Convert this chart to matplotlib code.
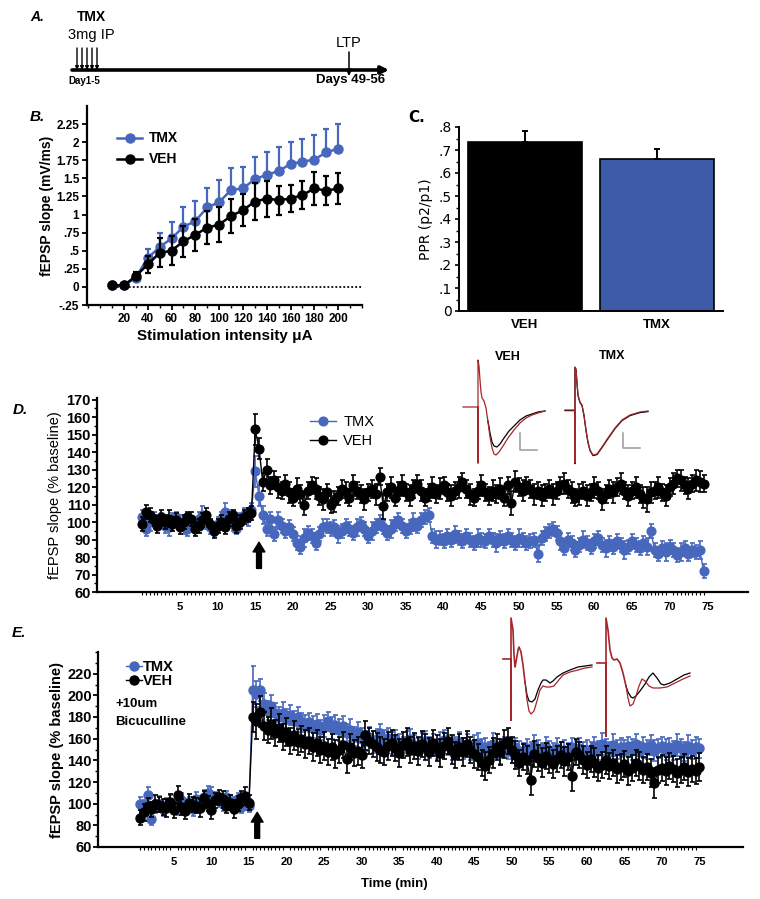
import numpy as np
import matplotlib
matplotlib.use('Agg')
import matplotlib.pyplot as plt
from matplotlib.ticker import FuncFormatter, MultipleLocator

plt.rcParams['font.family'] = ['Liberation Sans', 'DejaVu Sans']

W, H = 760, 899
BLUE = '#4767bd'
BAR_BLUE = '#3d5ba8'
RED = '#a3262a'

# ---------------- Panel B data ----------------
stim = [10, 20, 30, 40, 50, 60, 70, 80, 90, 100, 110, 120, 130, 140, 150, 160, 170, 180, 190, 200]
b_tmx = [0.02, 0.02, 0.13, 0.40, 0.55, 0.67, 0.83, 0.91, 1.10, 1.17, 1.34, 1.36, 1.49, 1.55, 1.60, 1.70, 1.73, 1.76, 1.86, 1.91]
b_tmx_err = [0.02, 0.03, 0.05, 0.13, 0.19, 0.23, 0.28, 0.28, 0.27, 0.31, 0.31, 0.30, 0.31, 0.31, 0.33, 0.30, 0.31, 0.34, 0.32, 0.34]
b_veh = [0.02, 0.02, 0.15, 0.31, 0.47, 0.50, 0.63, 0.72, 0.82, 0.86, 0.98, 1.06, 1.18, 1.22, 1.20, 1.22, 1.27, 1.36, 1.33, 1.36]
b_veh_err = [0.02, 0.03, 0.05, 0.12, 0.20, 0.20, 0.21, 0.22, 0.23, 0.24, 0.24, 0.22, 0.25, 0.25, 0.20, 0.19, 0.20, 0.23, 0.20, 0.22]

# ---------------- Panel C data ----------------
ppr_groups = ['VEH', 'TMX']
ppr_vals = [0.734, 0.660]
ppr_err = [0.048, 0.044]

# ---------------- Panel D data (every 0.5 min from 0) ----------------
d_tmx = [103, 96, 100, 102, 99, 101, 98, 97, 101, 103,
         100, 98, 96, 99, 97, 102, 104, 100, 97, 95,
         99, 102, 106, 103, 99, 96, 101, 104, 103, 107,
         129, 115, 104, 96, 102, 93, 101, 98, 95, 97,
         93, 88, 86, 91, 94, 92, 88, 93, 97, 98,
         96, 97, 93, 95, 98, 96, 94, 97, 99, 96,
         92, 95, 98, 100, 97, 94, 96, 99, 101, 98,
         95, 97, 100, 98, 101, 103, 104, 92, 90, 91,
         89, 92, 90, 93, 91, 89, 92, 90, 88, 91,
         90, 89, 92, 90, 88, 91, 89, 92, 90, 88,
         91, 90, 88, 89, 90, 82, 91, 93, 95, 96,
         94, 89, 85, 90, 88, 84, 87, 90, 88, 86,
         89, 91, 87, 85, 88, 86, 89, 87, 84, 86,
         89, 87, 85, 88, 86, 95, 84, 82, 85, 83,
         86, 84, 81, 83, 85, 82, 84, 83, 84, 72]
d_tmx_err = [4, 4, 5, 4, 3, 4, 4, 5, 4, 3,
             4, 5, 4, 4, 3, 4, 5, 4, 4, 3,
             4, 4, 5, 4, 4, 3, 4, 4, 5, 4,
             9, 6, 5, 4, 4, 4, 5, 4, 4, 4,
             4, 4, 4, 5, 4, 4, 4, 4, 5, 4,
             4, 4, 5, 4, 4, 4, 4, 5, 4, 4,
             4, 5, 4, 4, 4, 4, 5, 4, 4, 4,
             4, 4, 5, 4, 4, 4, 4, 4, 5, 4,
             4, 4, 4, 5, 4, 4, 4, 4, 4, 5,
             4, 4, 4, 4, 5, 4, 4, 4, 4, 4,
             5, 4, 4, 4, 4, 5, 4, 4, 4, 4,
             4, 5, 4, 4, 4, 4, 4, 5, 4, 4,
             4, 4, 4, 5, 4, 4, 4, 4, 5, 4,
             4, 4, 4, 4, 5, 4, 4, 4, 4, 5,
             4, 4, 4, 5, 4, 4, 4, 4, 5, 4]
d_veh = [99, 106, 104, 101, 98, 103, 100, 102, 99, 101,
         97, 100, 103, 102, 96, 98, 101, 104, 99, 95,
         98, 100, 97, 102, 104, 98, 100, 103, 104, 105,
         153, 142, 123, 130, 121, 124, 120, 118, 122, 117,
         114, 119, 116, 110, 118, 121, 119, 115, 113, 117,
         110, 112, 115, 119, 117, 114, 121, 118, 116, 113,
         117, 119, 116, 126, 109, 117, 120, 114, 118, 121,
         117, 115, 119, 122, 118, 114, 117, 120, 116, 119,
         121, 117, 115, 118, 120, 123, 119, 116, 114, 118,
         121, 117, 115, 118, 116, 119, 114, 121, 111, 123,
         120, 118, 121, 119, 116, 118, 115, 117, 119, 116,
         118, 121, 122, 119, 117, 114, 116, 118, 115, 117,
         120, 118, 113, 116, 119, 117, 120, 122, 118, 115,
         118, 120, 116, 114, 113, 117, 118, 120, 117, 115,
         120, 122, 125, 124, 121, 119, 122, 124, 123, 122]
d_veh_err = [4, 4, 4, 3, 4, 4, 4, 5, 4, 4,
             4, 4, 3, 4, 4, 4, 4, 4, 3, 4,
             4, 4, 4, 4, 3, 4, 4, 4, 4, 4,
             9, 6, 5, 6, 5, 5, 6, 5, 5, 6,
             5, 6, 5, 6, 5, 5, 6, 5, 6, 5,
             5, 6, 5, 5, 6, 5, 6, 5, 5, 6,
             5, 5, 6, 5, 7, 5, 6, 5, 5, 6,
             5, 6, 5, 5, 6, 5, 5, 6, 5, 6,
             5, 5, 6, 5, 6, 5, 5, 6, 5, 5,
             6, 5, 5, 6, 5, 6, 5, 5, 7, 6,
             5, 6, 5, 5, 6, 5, 6, 5, 5, 6,
             5, 5, 6, 5, 6, 5, 6, 5, 6, 5,
             6, 5, 6, 5, 5, 6, 5, 6, 5, 6,
             5, 6, 5, 6, 7, 6, 5, 6, 5, 6,
             5, 6, 5, 6, 5, 6, 5, 6, 6, 5]

# ---------------- Panel E data (every 0.5 min from 0.5) ----------------
e_tmx = [100, 96, 108, 86, 97, 100, 95, 99, 101, 97,
         96, 103, 98, 100, 95, 104, 101, 106, 110, 108,
         105, 103, 100, 106, 102, 99, 104, 97, 101, 98,
         205, 201, 205, 192, 186, 190, 184, 180, 184, 178,
         182, 176, 180, 175, 172, 175, 171, 174, 168, 172,
         176, 170, 173, 168, 172, 165, 168, 162, 166, 160,
         158, 162, 157, 160, 165, 158, 161, 156, 159, 155,
         153, 157, 160, 154, 151, 156, 158, 152, 155, 150,
         156, 159, 154, 150, 153, 157, 151, 155, 149, 153,
         156, 150, 152, 148, 155, 151, 147, 153, 150, 148,
         152, 149, 146, 151, 148, 153, 150, 147, 152, 149,
         147, 151, 148, 150, 146, 152, 149, 151, 148, 150,
         147, 153, 149, 155, 151, 148, 154, 150, 152, 149,
         153, 150, 155, 148, 152, 150, 154, 149, 151, 153,
         150, 152, 149, 154, 151, 148, 153, 150, 152, 151]
e_tmx_err = [6, 7, 7, 6, 6, 7, 6, 6, 7, 6,
             6, 7, 6, 6, 6, 7, 6, 7, 6, 7,
             6, 6, 7, 6, 6, 7, 6, 6, 7, 6,
             22, 12, 10, 10, 9, 10, 9, 9, 10, 9,
             9, 10, 9, 9, 10, 9, 10, 9, 9, 10,
             9, 10, 9, 10, 9, 9, 10, 9, 9, 10,
             9, 9, 10, 9, 9, 10, 9, 10, 9, 9,
             9, 10, 9, 9, 10, 9, 9, 10, 9, 9,
             10, 9, 9, 10, 9, 9, 10, 9, 9, 10,
             9, 10, 9, 9, 10, 9, 10, 9, 9, 10,
             9, 9, 10, 9, 9, 10, 9, 9, 10, 9,
             9, 10, 9, 9, 10, 9, 9, 10, 9, 9,
             10, 9, 9, 10, 9, 9, 10, 9, 9, 10,
             9, 10, 9, 9, 10, 9, 9, 10, 9, 9,
             10, 9, 9, 10, 9, 9, 10, 9, 10, 9]
e_veh = [87, 92, 98, 95, 100, 99, 97, 96, 102, 94,
         108, 97, 93, 101, 99, 98, 96, 105, 100, 94,
         103, 106, 104, 98, 101, 95, 100, 105, 107, 101,
         180, 176, 185, 172, 168, 174, 165, 170, 162, 166,
         158, 163, 157, 160, 155, 158, 152, 156, 150, 153,
         148, 152, 146, 150, 154, 141, 152, 147, 149, 145,
         163, 158, 155, 152, 150, 148, 153, 156, 151, 147,
         154, 157, 150, 153, 149, 155, 152, 148, 156, 151,
         147, 153, 158, 150, 145, 152, 148, 155, 150, 146,
         143, 138, 135, 140, 147, 152, 148, 155, 158, 150,
         145, 138, 143, 140, 122, 146, 142, 138, 144, 140,
         137, 141, 145, 139, 143, 126, 148, 145, 140, 136,
         141, 138, 133, 136, 140, 135, 138, 132, 134, 137,
         130, 133, 138, 135, 131, 134, 128, 119, 131, 133,
         130, 135, 132, 128, 131, 134, 129, 132, 130, 134]
e_veh_err = [7, 8, 7, 7, 8, 7, 7, 8, 7, 7,
             8, 7, 7, 8, 7, 7, 8, 7, 7, 8,
             7, 7, 8, 7, 7, 8, 7, 7, 8, 7,
             14, 16, 14, 13, 12, 14, 12, 13, 12, 13,
             12, 13, 12, 12, 13, 12, 13, 12, 12, 13,
             12, 12, 13, 12, 12, 13, 12, 12, 13, 12,
             13, 12, 12, 13, 12, 12, 13, 12, 12, 13,
             12, 13, 12, 12, 13, 12, 12, 13, 12, 12,
             13, 12, 12, 13, 12, 12, 13, 12, 12, 13,
             12, 12, 13, 12, 14, 12, 12, 13, 12, 12,
             13, 12, 12, 13, 14, 12, 12, 13, 12, 12,
             13, 12, 12, 13, 12, 14, 12, 12, 13, 12,
             12, 13, 12, 12, 13, 12, 12, 13, 12, 12,
             13, 12, 12, 13, 12, 12, 13, 14, 12, 12,
             13, 12, 12, 13, 12, 12, 13, 12, 12, 13]

# ---------------- Example traces (inset sketches, figure pixel units) ----------------
trD1_x = [463, 477, 478, 478, 478, 479, 480, 481, 482, 484, 486, 488]
trD1_y = [407, 407, 407, 463, 360, 366, 380, 392, 398, 401, 408, 422]
trD1_red_x = [488, 490, 492, 494, 496, 499, 503, 508, 514, 520, 526, 532, 538, 545]
trD1_red_y = [422, 437, 448, 454, 455, 452, 446, 438, 430, 423, 418, 415, 413, 411]
trD1_blk_x = [488, 490, 492, 494, 497, 500, 504, 509, 515, 520, 526, 532, 538, 545]
trD1_blk_y = [421, 433, 442, 446, 447, 444, 438, 431, 425, 420, 416, 414, 412, 411]
trD2_x = [565, 574, 575, 575, 575, 576, 577, 578, 580, 582, 584, 586, 588, 590, 593, 597, 602, 608, 615, 622, 630, 640, 648]
trD2_y = [410, 410, 410, 463, 367, 369, 383, 395, 402, 405, 415, 430, 442, 450, 455, 454, 447, 438, 428, 420, 415, 412, 411]

trE1_x = [503, 510, 511, 511, 511, 513, 514, 515, 516, 518, 519, 521, 523, 525]
trE1_y = [659, 659, 659, 720, 618, 630, 655, 667, 662, 650, 647, 652, 665, 682]
trE1_red_x = [525, 527, 529, 531, 534, 537, 540, 543, 546, 550, 554, 558, 563, 570, 578, 585, 592]
trE1_red_y = [682, 700, 711, 714, 711, 701, 690, 686, 687, 687, 686, 681, 675, 672, 670, 668, 667]
trE1_blk_x = [525, 527, 529, 532, 535, 538, 541, 543, 546, 550, 553, 557, 563, 570, 578, 585, 592]
trE1_blk_y = [682, 695, 701, 702, 699, 690, 683, 680, 680, 683, 681, 677, 673, 670, 667, 666, 665]
trE2_x = [597, 605, 606, 606, 606, 608, 610, 612, 614, 617, 620, 623, 626]
trE2_y = [663, 663, 663, 736, 618, 630, 650, 658, 660, 659, 663, 673, 686]
trE2_red_x = [626, 628, 630, 633, 636, 639, 642, 645, 649, 653, 660, 667, 675, 683, 690]
trE2_red_y = [686, 698, 706, 704, 696, 686, 679, 681, 686, 688, 688, 687, 683, 679, 676]
trE2_blk_x = [626, 628, 631, 633, 636, 640, 645, 649, 653, 657, 661, 664, 670, 677, 684, 690]
trE2_blk_y = [686, 692, 697, 698, 696, 691, 684, 677, 673, 678, 684, 685, 683, 679, 675, 673]


def box(l, t, r, b):
    return [l / W, 1 - b / H, (r - l) / W, (b - t) / H]


def dotfmt(v, pos=None):
    if abs(v) < 1e-9:
        return '0'
    s = ('%.2f' % v).rstrip('0').rstrip('.')
    return s.replace('0.', '.')


fig = plt.figure(figsize=(W / 100, H / 100), dpi=100)

# ================= Panel B =================
axB = fig.add_axes(box(87, 106, 362, 305))
axB.axhline(0, color='black', lw=1.3, ls=(0, (1, 1.2)), xmin=0.08, xmax=1.0, zorder=1)
axB.errorbar(stim, b_tmx, yerr=[np.zeros(len(b_tmx_err)), b_tmx_err], fmt='o-', color=BLUE,
             ms=6.5, lw=1.8, elinewidth=1.6, capsize=2.2, capthick=1.6, label='TMX', zorder=3)
axB.errorbar(stim, b_veh, yerr=b_veh_err, fmt='o-', color='black',
             ms=6.5, lw=1.8, elinewidth=1.6, capsize=2.2, capthick=1.6, label='VEH', zorder=4)
axB.set_xlim(-11, 220)
axB.set_ylim(-0.25, 2.5)
axB.set_xticks(range(20, 201, 20))
axB.xaxis.set_minor_locator(MultipleLocator(10))
axB.set_yticks(np.arange(-0.25, 2.26, 0.25))
axB.yaxis.set_major_formatter(FuncFormatter(dotfmt))
for s in ['top', 'right']:
    axB.spines[s].set_visible(False)
for s in ['left', 'bottom']:
    axB.spines[s].set_linewidth(1.6)
axB.tick_params(axis='both', which='major', labelsize=8.5, width=1.3, length=3.5, pad=2)
axB.tick_params(axis='x', which='minor', width=1.0, length=2)
for lab in axB.get_xticklabels() + axB.get_yticklabels():
    lab.set_fontweight('bold')
axB.set_ylabel('fEPSP slope (mV/ms)', fontsize=10, fontweight='bold', labelpad=2)
axB.set_xlabel('Stimulation intensity \u03bcA', fontsize=11, fontweight='bold', labelpad=3)
hB, lB = axB.get_legend_handles_labels()
hB = [h[0] for h in hB]
axB.legend(hB, lB, loc='upper left', bbox_to_anchor=(0.09, 0.9), frameon=False,
           prop={'weight': 'bold', 'size': 10}, handlelength=1.8, handletextpad=0.5,
           labelspacing=0.5, borderaxespad=0)

# ================= Panel C =================
axC = fig.add_axes(box(459, 127, 723, 311))
axC.bar(range(len(ppr_groups)), ppr_vals, width=0.87, color=['black', BAR_BLUE],
        edgecolor='black', linewidth=1.2, zorder=2)
axC.errorbar(range(len(ppr_groups)), ppr_vals, yerr=[np.zeros(len(ppr_err)), ppr_err], fmt='none',
             ecolor='black', elinewidth=1.4, capsize=2.5, capthick=1.4, zorder=3)
axC.set_xlim(-0.5, 1.5)
axC.set_ylim(0, 0.8)
axC.set_yticks(np.arange(0, 0.81, 0.1))
axC.yaxis.set_minor_locator(MultipleLocator(0.05))
axC.yaxis.set_major_formatter(FuncFormatter(dotfmt))
axC.set_xticks(range(len(ppr_groups)))
axC.set_xticklabels(ppr_groups)
for s in ['top', 'right']:
    axC.spines[s].set_visible(False)
for s in ['left', 'bottom']:
    axC.spines[s].set_linewidth(1.4)
axC.tick_params(axis='y', which='major', labelsize=10, width=1.2, length=3, pad=2, labelfontfamily='DejaVu Sans')
axC.tick_params(axis='y', which='minor', width=1.0, length=2)
axC.tick_params(axis='x', which='major', labelsize=9.5, length=0, pad=6)
for lab in axC.get_xticklabels():
    lab.set_fontweight('bold')
axC.set_ylabel('PPR (p2/p1)', fontsize=10, family='DejaVu Sans', labelpad=4)


def timecourse(ax, t, tmx, tmx_e, veh, veh_e, ms):
    ax.errorbar(t, tmx, yerr=tmx_e, fmt='o-', color=BLUE, ms=ms, lw=1.0,
                elinewidth=1.2, capsize=1.8, capthick=1.2, label='TMX', zorder=3)
    ax.errorbar(t, veh, yerr=veh_e, fmt='o-', color='black', ms=ms, lw=1.0,
                elinewidth=1.2, capsize=1.8, capthick=1.2, label='VEH', zorder=4)
    for s in ['top', 'right']:
        ax.spines[s].set_visible(False)
    for s in ['left', 'bottom']:
        ax.spines[s].set_linewidth(1.6)
    ax.set_xticks(range(5, 76, 5))
    ax.tick_params(axis='x', which='major', length=0, labelsize=8, pad=7)
    ax.tick_params(axis='x', which='minor', length=2.5, width=0.8)
    ax.tick_params(axis='y', which='major', length=3.5, width=1.3, labelsize=10.5, pad=1)
    ax.tick_params(axis='y', which='minor', length=2, width=1.0)
    for lab in ax.get_xticklabels() + ax.get_yticklabels():
        lab.set_fontweight('bold')


# ================= Panel D =================
tD = np.arange(len(d_tmx)) * 0.5
axD = fig.add_axes(box(97, 398, 748, 592))
timecourse(axD, tD, d_tmx, d_tmx_err, d_veh, d_veh_err, 6.3)
axD.set_xlim(-6, 80.4)
axD.set_ylim(60, 171)
axD.set_yticks(range(60, 171, 10))
axD.yaxis.set_minor_locator(MultipleLocator(5))
axD.set_xticks(tD, minor=True)
axD.set_ylabel('fEPSP slope (% baseline)', fontsize=10.5, labelpad=3)
axD.annotate('', xy=(15.5, 88.5), xytext=(15.5, 73.5),
             arrowprops=dict(facecolor='black', edgecolor='black', width=3.5, headwidth=8.5, headlength=7, shrink=0))
hD, lD = axD.get_legend_handles_labels()
hD = [h[0] for h in hD]
axD.legend(hD, lD, loc='upper left', bbox_to_anchor=(0.318, 0.94), frameon=False,
           prop={'size': 10.5}, handlelength=1.8, handletextpad=0.5, labelspacing=0.3, borderaxespad=0)

# ================= Panel E =================
tE = (np.arange(len(e_tmx)) + 1) * 0.5
axE = fig.add_axes(box(98, 652, 743, 847))
timecourse(axE, tE, e_tmx, e_tmx_err, e_veh, e_veh_err, 6.5)
axE.set_xlim(-5.1, 80.8)
axE.set_ylim(60, 240)
axE.set_yticks(range(60, 221, 20))
axE.yaxis.set_minor_locator(MultipleLocator(10))
axE.set_xticks(tE, minor=True)
axE.set_ylabel('fEPSP slope (% baseline)', fontsize=10.5, fontweight='bold', labelpad=2)
axE.set_xlabel('Time (min)', fontsize=9.5, fontweight='bold')
axE.xaxis.set_label_coords(0.46, -0.16)
axE.annotate('', xy=(16.1, 92), xytext=(16.1, 68),
             arrowprops=dict(facecolor='black', edgecolor='black', width=3.5, headwidth=8.5, headlength=7, shrink=0))
hE, lE = axE.get_legend_handles_labels()
hE = [h[0] for h in hE]
axE.legend(hE, lE, loc='upper left', bbox_to_anchor=(0.035, 0.99), frameon=False,
           prop={'size': 10.5, 'weight': 'bold'}, handlelength=1.1, handletextpad=0.05,
           labelspacing=0.0, borderaxespad=0)

# ================= Overlay: panel A, letters, traces =================
ov = fig.add_axes([0, 0, 1, 1])
ov.set_xlim(0, W)
ov.set_ylim(H, 0)
ov.axis('off')

ov.annotate('', xy=(389, 70), xytext=(72, 70),
            arrowprops=dict(arrowstyle='-|>', lw=2.6, color='black', mutation_scale=11, shrinkA=0, shrinkB=0))
for xa in [77, 82, 87, 92, 97]:
    ov.annotate('', xy=(xa, 70), xytext=(xa, 48),
                arrowprops=dict(arrowstyle='-|>', lw=1.0, color='black', mutation_scale=5, shrinkA=0, shrinkB=0))
ov.annotate('', xy=(349, 76), xytext=(349, 52),
            arrowprops=dict(arrowstyle='-|>', lw=1.1, color='black', mutation_scale=9, shrinkA=0, shrinkB=0))
NARROW = ['Liberation Sans Narrow', 'Liberation Sans', 'DejaVu Sans']
ov.text(91, 17, 'TMX', ha='center', va='center', fontsize=10, fontweight='bold', family=NARROW)
ov.text(91, 35, '3mg IP', ha='center', va='center', fontsize=10.5, family=NARROW)
ov.text(84, 81, 'Day1-5', ha='center', va='center', fontsize=7, fontweight='bold', family=NARROW)
ov.text(349, 43, 'LTP', ha='center', va='center', fontsize=10.5, family=NARROW)
ov.text(351, 80, 'Days 49-56', ha='center', va='center', fontsize=9.5, fontweight='bold', family=NARROW)

ov.text(30, 17, 'A.', ha='left', va='center', fontsize=10, fontweight='bold', style='italic')
ov.text(30, 117, 'B.', ha='left', va='center', fontsize=11, fontweight='bold', style='italic')
ov.text(408, 117, 'C.', ha='left', va='center', fontsize=11, fontweight='bold', family='DejaVu Sans')
ov.text(13, 410, 'D.', ha='left', va='center', fontsize=11, fontweight='bold', style='italic')
ov.text(12, 633, 'E.', ha='left', va='center', fontsize=11, fontweight='bold', style='italic')

ov.text(508, 357, 'VEH', ha='center', va='center', fontsize=9, fontweight='bold')
ov.text(612, 356, 'TMX', ha='center', va='center', fontsize=9, fontweight='bold')
ov.text(115, 704, '+10um', ha='left', va='center', fontsize=9.5, fontweight='bold')
ov.text(115, 722, 'Bicuculline', ha='left', va='center', fontsize=9.5, fontweight='bold')

# traces D
ov.plot(trD1_blk_x, trD1_blk_y, color='black', lw=0.9)
ov.plot(trD1_x, trD1_y, color=RED, lw=0.9)
ov.plot(trD1_red_x, trD1_red_y, color=RED, lw=0.9)
ov.plot(trD2_x, [v + 0.6 for v in trD2_y], color='black', lw=0.9)
ov.plot(trD2_x, trD2_y, color=RED, lw=0.9)
ov.plot([520, 520, 537], [433, 450, 450], color='#9a9a9a', lw=1.1)
ov.plot([623, 623, 640], [433, 448, 448], color='#9a9a9a', lw=1.1)
# traces E
ov.plot(trE1_blk_x, trE1_blk_y, color='black', lw=0.9)
ov.plot(trE1_x, trE1_y, color=RED, lw=1.2)
ov.plot(trE1_red_x, trE1_red_y, color=RED, lw=0.9)
ov.plot(trE2_blk_x, trE2_blk_y, color='black', lw=0.9)
ov.plot(trE2_x, trE2_y, color=RED, lw=1.2)
ov.plot(trE2_red_x, trE2_red_y, color=RED, lw=0.9)

fig.savefig('out.png', dpi=100)
